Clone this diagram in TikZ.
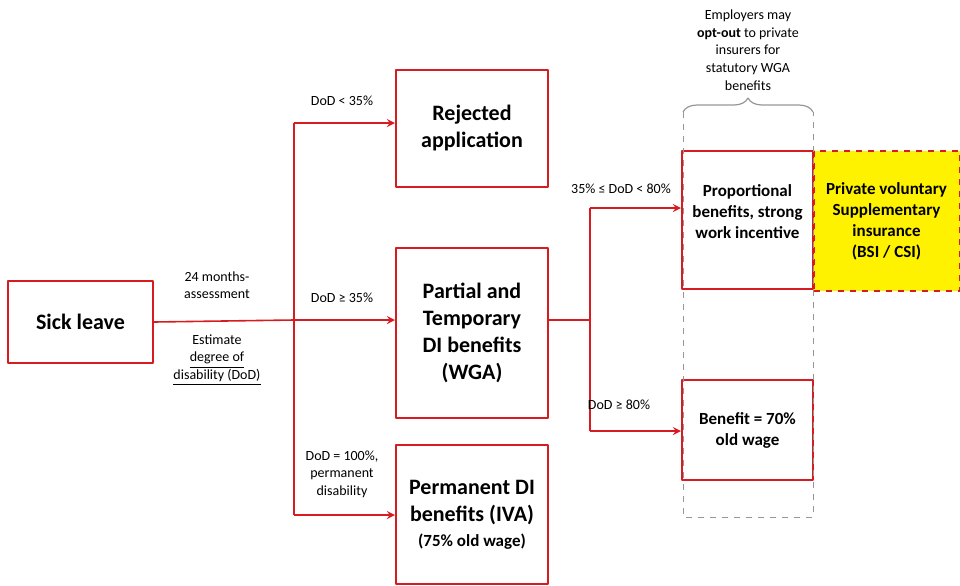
\documentclass[tikz,border=0pt]{standalone}
\usepackage{fontspec}
\setmainfont{Carlito}
\usetikzlibrary{decorations.pathreplacing}
\definecolor{boxred}{RGB}{214,28,32}
\definecolor{notegray}{RGB}{150,150,150}
\begin{document}
\begin{tikzpicture}[
  x=0.5pt,
  y=-0.5pt,
  line join=round,
  stage box/.style={draw=boxred, line width=1pt, align=center, inner sep=2pt,
    font=\fontsize{11}{13.5}\selectfont\bfseries},
  result box/.style={stage box, font=\fontsize{8.5}{10.5}\selectfont\bfseries},
  flow line/.style={draw=boxred, line width=0.8pt},
  flow arrow/.style={flow line, ->, >=stealth},
  cond label/.style={align=center, font=\fontsize{7}{8.8}\selectfont}
]
  \useasboundingbox (0,0) rectangle (960,585);

  % Stages of the disability path.
  \node[stage box, minimum width=72.5pt, minimum height=41pt] (sick) at (80.5,322) {Sick leave};
  \node[stage box, minimum width=76pt, minimum height=58.5pt] (rejected) at (472,128.5) {Rejected\\application};
  \node[stage box, minimum width=76pt, minimum height=85pt] (wga) at (472,333)
    {Partial and\\Temporary\\DI benefits\\(WGA)};
  \node[stage box, minimum width=76pt, minimum height=69.5pt] (iva) at (472,514.5)
    {Permanent DI\\benefits (IVA)\\[-1pt]{\fontsize{8.5}{10}\selectfont(75\% old wage)}};

  % WGA outcomes and the private top-up.
  \node[result box, minimum width=65.5pt, minimum height=69pt] (proportional) at (747.5,220)
    {Proportional\\benefits, strong\\work incentive\\[-2pt]\mbox{}};
  \node[result box, draw=boxred, dashed, fill=yellow, minimum width=73pt, minimum height=70pt]
    (private) at (886.5,221) {Private voluntary\\Supplementary\\insurance\\(BSI / CSI)};
  \node[result box, minimum width=65.5pt, minimum height=50pt] (fixed) at (747.5,430)
    {Benefit = 70\%\\old wage};

  % Branch points.
  \coordinate (assess) at (294,320);
  \coordinate (assess top) at (294,123);
  \coordinate (assess bottom) at (294,515);
  \coordinate (wga split) at (590,320);
  \coordinate (wga top) at (590,208);
  \coordinate (wga bottom) at (590,431);

  \draw[flow line] (sick.east) -- (assess);
  \draw[flow line] (assess top) -- (assess bottom);
  \draw[flow arrow] (assess top) -- (assess top -| rejected.west);
  \draw[flow arrow] (assess) -- (assess -| wga.west);
  \draw[flow arrow] (assess bottom) -- (assess bottom -| iva.west);

  \draw[flow line] (wga.east |- wga split) -- (wga split);
  \draw[flow line] (wga top) -- (wga bottom);
  \draw[flow arrow] (wga top) -- (wga top -| proportional.west);
  \draw[flow arrow] (wga bottom) -- (wga bottom -| fixed.west);

  % Conditions on the branches.
  \node[cond label] (lt35) at (342,101) {DoD < 35\%};
  \node[cond label] (ge35) at (342,298) {DoD ≥ 35\%};
  \node[cond label] (eq100) at (342,474) {DoD = 100\%,\\permanent\\disability};
  \node[cond label] (months) at (217,285) {24 months-\\assessment};
  \node[cond label] (estimate) at (217,360)
    {Estimate\\\underline{degree of}\\\underline{disability (DoD)}};
  \node[cond label] (mid80) at (621,189) {35\% ≤ DoD < 80\%};
  \node[cond label] (ge80) at (619,405) {DoD ≥ 80\%};

  % Opt-out bracket over the WGA outcomes.
  \coordinate (optout left) at (683,112);
  \coordinate (optout right) at (813,112);
  \coordinate (optout lower left) at (683,517);
  \coordinate (optout lower right) at (813,517);
  \draw[notegray, line width=0.5pt, dashed]
    (optout left) -- (optout lower left) -- (optout lower right) -- (optout right);
  \draw[notegray, line width=0.6pt, decorate, decoration={brace, amplitude=7pt}]
    (optout left) -- (optout right);
  \node[cond label] (optout) at (748,50)
    {Employers may\\\textbf{opt-out} to private\\insurers for\\statutory WGA\\benefits};
\end{tikzpicture}
\end{document}
